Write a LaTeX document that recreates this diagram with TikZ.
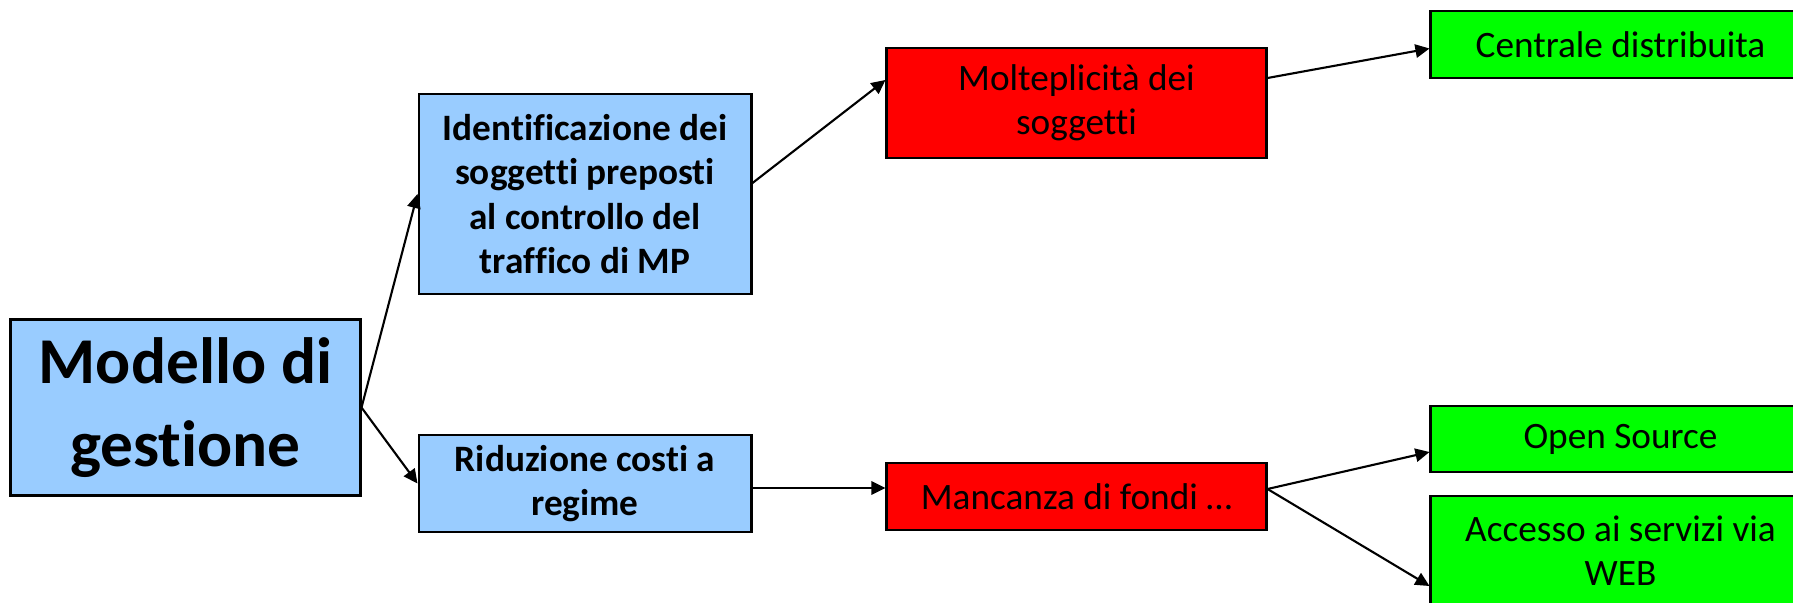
\documentclass[tikz,border=0pt]{standalone}
\usepackage{fontspec}
\setmainfont{Carlito}[Ligatures={NoCommon,NoContextual}]
\usepackage{tikz}
\usetikzlibrary{positioning,arrows.meta,calc}
\definecolor{boxblue}{HTML}{99CCFF}
\definecolor{boxred}{HTML}{FF0000}
\definecolor{boxgreen}{HTML}{00FF00}

\begin{document}
\begin{tikzpicture}[x=0.01cm,y=-0.01cm,
                    basebox/.style={draw,line width=.8pt,rectangle,align=center,inner sep=0pt,font={\fontsize{10.6}{12.6}\selectfont}},
                    rootbox/.style={basebox,fill=boxblue,minimum width=3.49cm,minimum height=1.76cm,font={\fontsize{18.6}{23.4}\selectfont\bfseries}},
                    goalbox/.style={basebox,fill=boxblue,minimum width=3.32cm,font={\fontsize{10.6}{12.6}\selectfont\bfseries}},
                    problembox/.style={basebox,fill=boxred,minimum width=3.79cm},
                    solutionbox/.style={basebox,fill=boxgreen,minimum width=3.79cm},
                    link/.style={line width=.6pt,-{Triangle[length=4pt,width=3.8pt]}}]
  \clip (0,0) rectangle (1793,603);
  \node[rootbox] (modello) at (185.5,407.5) {Modello di\\gestione};
  \node[goalbox,minimum height=2cm] (soggetti) at (585,194) {Identificazione dei\\soggetti preposti\\al controllo del\\traffico di MP};
  \node[goalbox,minimum height=.97cm] (costi) at (585,483.5) {Riduzione costi a\\regime};
  \node[problembox,minimum height=1.1cm] (molteplicita) at (1076.5,103) {Molteplicità dei\\soggetti};
  \node[problembox,minimum height=.67cm] (fondi) at (1076.5,496.5) {Mancanza di fondi …};
  \node[solutionbox,minimum height=.67cm] (centrale) at (1620.5,44.5) {Centrale distribuita};
  \node[solutionbox,minimum height=.66cm] (opensource) at (1620.5,439) {Open Source};
  \node[solutionbox,minimum height=1.1cm] (web) at (1620.5,551) {Accesso ai servizi via\\WEB};
  \draw[link] (modello.east) -- (soggetti.west);
  \draw[link] (modello.east) -- (costi.west);
  \draw[link] ($(soggetti.east)+(0,-11)$) -- ($(molteplicita.west)+(0,-23)$);
  \draw[link] ($(molteplicita.east)+(0,-25)$) -- ($(centrale.west)+(0,4)$);
  \draw[link] ($(costi.east)+(0,4.5)$) -- ($(fondi.west)+(0,-8.5)$);
  \draw[link] ($(fondi.east)+(0,-7.5)$) -- ($(opensource.west)+(0,13)$);
  \draw[link] ($(fondi.east)+(0,-7.5)$) -- ($(web.west)+(0,35)$);
\end{tikzpicture}
\end{document}
